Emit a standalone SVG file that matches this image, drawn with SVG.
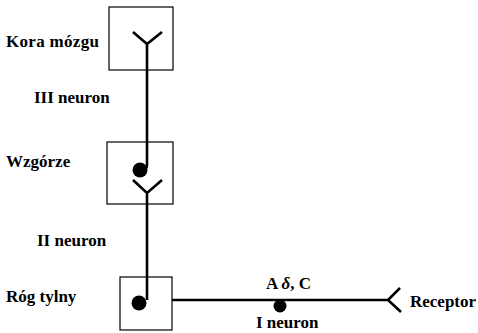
<svg xmlns="http://www.w3.org/2000/svg" width="478" height="333" viewBox="0 0 478 333">
<style>
.box{fill:none;stroke:#000;stroke-width:1.2}
.ax{fill:none;stroke:#000;stroke-width:2.6;stroke-linecap:butt;stroke-linejoin:miter}
.t{font-family:"Liberation Serif","Times New Roman",serif;font-weight:bold;font-size:17px;fill:#000}
</style>
<rect width="478" height="333" fill="#fff"/>
<g id="kora">
<rect class="box" x="109" y="7" width="64" height="63"/>
<text class="t" x="6" y="47" textLength="93">Kora mózgu</text>
</g>
<g id="wzgorze">
<rect class="box" x="107" y="142" width="66" height="62"/>
<text class="t" x="6" y="167">Wzgórze</text>
</g>
<g id="rog">
<rect class="box" x="120" y="277" width="52" height="53"/>
<text class="t" x="6" y="302">Róg tylny</text>
</g>
<g id="receptor">
<text class="t" x="410" y="307">Receptor</text>
</g>
<g id="connectors">
<path class="ax" d="M133,32 L147,44 L162,32 M147,44 L147,165 Q147,170 141,170"/>
<circle cx="140" cy="170" r="7.5"/>
<path class="ax" d="M133,180 L147,193 L162,180 M147,193 L147,300"/>
<circle cx="139" cy="303" r="7.5"/>
<path class="ax" d="M172,300 L388,300 M400,288 L388,300 L401,312"/>
<circle cx="280" cy="306" r="6.5"/>
</g>
<g id="labels">
<text class="t" x="34" y="103">III neuron</text>
<text class="t" x="37" y="246">II neuron</text>
<text class="t" x="266" y="289">A <tspan font-style="italic">δ</tspan>, C</text>
<text class="t" x="256" y="328">I neuron</text>
</g>
</svg>
